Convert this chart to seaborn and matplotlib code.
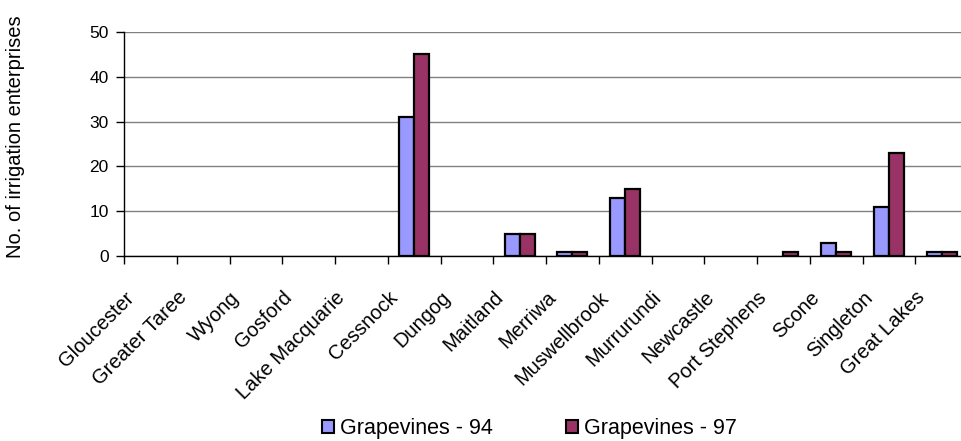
import matplotlib
matplotlib.use("Agg")
import matplotlib.pyplot as plt
import matplotlib.transforms as mtransforms
from matplotlib.patches import Patch
import seaborn as sns
import pandas as pd
import numpy as np
from matplotlib.ticker import FixedLocator

regions = ["Gloucester", "Greater Taree", "Wyong", "Gosford", "Lake Macquarie",
           "Cessnock", "Dungog", "Maitland", "Merriwa", "Muswellbrook",
           "Murrurundi", "Newcastle", "Port Stephens", "Scone", "Singleton",
           "Great Lakes"]
grape94 = [0, 0, 0, 0, 0, 31, 0, 5, 1, 13, 0, 0, 0, 3, 11, 1]
grape97 = [0, 0, 0, 0, 0, 45, 0, 5, 1, 15, 0, 0, 1, 1, 23, 1]
series_names = ["Grapevines - 94", "Grapevines - 97"]
colors = ["#9999FF", "#993366"]

df = pd.DataFrame({
    "region": regions * 2,
    "count": grape94 + grape97,
    "series": [series_names[0]] * len(regions) + [series_names[1]] * len(regions),
})

sns.set_style("white")
plt.rcParams["font.family"] = ["Liberation Sans", "DejaVu Sans"]
plt.rcParams["text.color"] = "black"
plt.rcParams["axes.labelcolor"] = "black"
plt.rcParams["xtick.color"] = "black"
plt.rcParams["ytick.color"] = "black"

W, H = 961, 441
fig = plt.figure(figsize=(W / 100, H / 100), dpi=100)
ax_left, ax_right, ax_top, ax_bottom = 124, 968, 32, 256
ax = fig.add_axes([ax_left / W, 1 - ax_bottom / H,
                   (ax_right - ax_left) / W, (ax_bottom - ax_top) / H])

sns.barplot(data=df, x="region", y="count", hue="series", palette=colors,
            saturation=1, width=0.57, edgecolor="black", linewidth=1.6, ax=ax,
            order=regions, hue_order=series_names, legend=False)

for p in ax.patches:
    if p.get_height() == 0:
        p.set_linewidth(0)

ax.set_ylim(0, 50)
ax.set_xlim(-0.5, len(regions) - 0.5)
ax.set_yticks([0, 10, 20, 30, 40, 50])
ax.yaxis.grid(True, color="#808080", linewidth=1.0)
ax.set_axisbelow(True)
for s in ["top", "right"]:
    ax.spines[s].set_visible(False)
for s in ["left", "bottom"]:
    ax.spines[s].set_color("black")
    ax.spines[s].set_linewidth(1.0)

ax.tick_params(axis="y", which="major", direction="out", length=6, width=1,
               color="black", labelcolor="black", labelsize=12.5, pad=5, left=True)
ax.set_xticks(range(len(regions)))
ax.set_xticklabels(regions, rotation=45, ha="right", va="top",
                   rotation_mode="anchor", fontsize=14.5, color="black")
ax.tick_params(axis="x", which="major", length=0, pad=23)
offset = mtransforms.ScaledTranslation(-26 / 100, 0, fig.dpi_scale_trans)
for lbl in ax.get_xticklabels():
    lbl.set_transform(lbl.get_transform() + offset)
ax.xaxis.set_minor_locator(FixedLocator(np.arange(-0.5, len(regions), 1.0)))
ax.tick_params(axis="x", which="minor", direction="out", length=6, width=1,
               color="black", bottom=True)

ax.set_xlabel("")
ax.set_ylabel("")
fig.text(16 / W, 1 - 137 / H, "No. of irrigation enterprises", rotation=90,
         ha="center", va="center", fontsize=14.5, color="black")

handles = [Patch(facecolor=c, edgecolor="black", linewidth=1.5) for c in colors]
leg = fig.legend(handles, series_names, loc="center", bbox_to_anchor=(0.551, 0.029),
                 ncol=2, frameon=False, fontsize=15.5, handlelength=0.55,
                 handleheight=0.55, handletextpad=0.3, columnspacing=3.4)
for t in leg.get_texts():
    t.set_color("black")

fig.savefig("out.png", dpi=100)
